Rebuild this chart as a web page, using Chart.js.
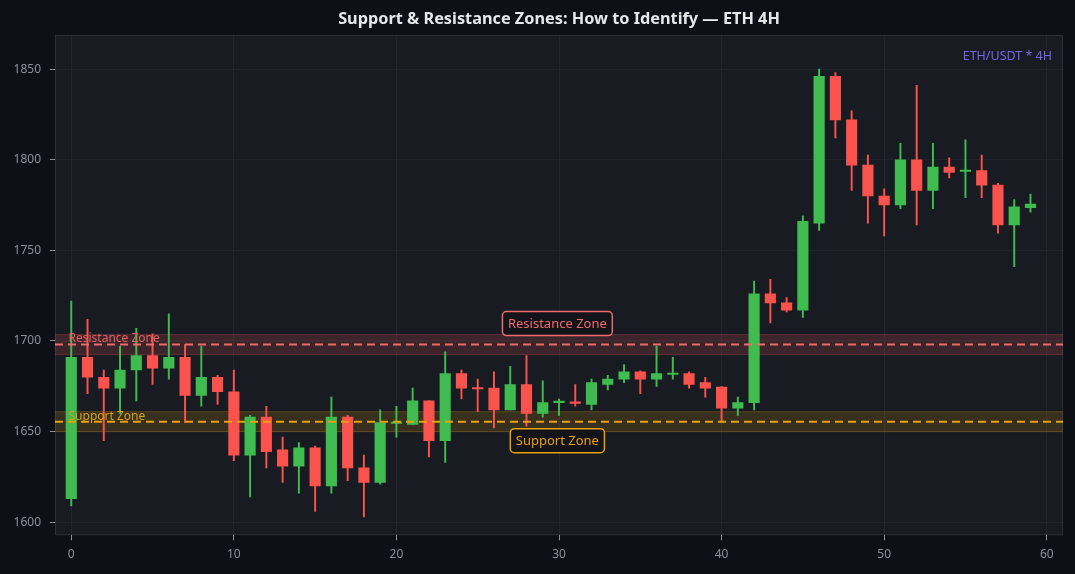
<!DOCTYPE html>
<html lang="en">
<head>
<meta charset="utf-8">
<title>Support & Resistance Zones — ETH 4H</title>
<script src="https://cdn.jsdelivr.net/npm/chart.js@4.4.1/dist/chart.umd.min.js"></script>
<style>
  html, body { margin: 0; padding: 0; background: #0d1017; }
  #wrap { width: 1075px; height: 574px; position: relative; }
</style>
</head>
<body>
<div id="wrap"><canvas id="chart"></canvas></div>
<script>
/* ===========================================================
   ETH 4H — support & resistance zones (Chart.js, floating bars)
   =========================================================== */

// ---------- Dados (OHLC por vela) ----------
const candleIdx = Array.from({ length: 60 }, (_, i) => i);
const opens  = [1613, 1691, 1680, 1674, 1684, 1692, 1685, 1691, 1670, 1680,
                1672, 1637, 1658, 1640, 1631, 1641, 1620, 1658, 1630, 1622,
                1654.5, 1654, 1667, 1645, 1682, 1674, 1674, 1662, 1676, 1660,
                1666, 1666.5, 1665, 1676, 1679, 1683, 1679, 1681.5, 1682, 1677,
                1674.5, 1663, 1666, 1726, 1721, 1717, 1765, 1846, 1822, 1797,
                1780, 1775, 1800, 1783, 1796, 1793.5, 1794, 1786, 1764, 1773.5];
const highs  = [1722, 1712, 1684, 1697, 1707, 1704, 1715, 1698, 1697, 1681,
                1684, 1659, 1664, 1647, 1644, 1642, 1669, 1659, 1637, 1662,
                1664, 1674, 1667, 1694, 1684, 1679, 1683, 1686, 1692, 1678,
                1668, 1676, 1679, 1681, 1687, 1683.5, 1697, 1691, 1683, 1680,
                1675, 1669, 1733, 1734, 1724, 1769, 1850, 1848, 1827, 1802.5,
                1784, 1809, 1841, 1809, 1801, 1811, 1802.5, 1787, 1778, 1781];
const lows   = [1609, 1671, 1645, 1660, 1667, 1676, 1679, 1655, 1664, 1665,
                1634, 1614, 1630, 1622, 1616, 1606, 1616, 1623, 1603, 1621,
                1647, 1654, 1636, 1633, 1668, 1661, 1652, 1662, 1653, 1658,
                1659, 1664, 1662, 1673, 1677, 1671, 1675, 1679, 1674, 1669,
                1655, 1659, 1662, 1710, 1716, 1713, 1761, 1812, 1783, 1765,
                1758, 1773, 1764, 1773, 1790, 1779, 1779, 1759.5, 1741, 1771];
const closes = [1691, 1680, 1674, 1684, 1692, 1685, 1691, 1670, 1680, 1672,
                1637, 1658, 1639, 1631, 1641, 1620, 1658, 1630, 1622, 1655,
                1655, 1667, 1645, 1682, 1674, 1673.5, 1662, 1676, 1660, 1666,
                1666.5, 1665.5, 1677, 1679, 1683, 1679, 1682, 1682, 1676, 1674,
                1663, 1666, 1726, 1721, 1717, 1766, 1846, 1822, 1797, 1780,
                1775, 1800, 1783, 1796, 1793, 1794, 1786, 1764, 1774, 1775.5];

// ---------- Zonas ----------
const resistanceLevel = 1698;
const supportLevel    = 1655.5;
const zoneHalfWidth   = 5.5;

// ---------- Eixos ----------
const xTicks = [0, 10, 20, 30, 40, 50, 60];
const yTicks = [1600, 1650, 1700, 1750, 1800, 1850];
const xRange = [-1, 61];
const yRange = [1592.8, 1868.8];

const TITLE = 'Support & Resistance Zones: How to Identify — ETH 4H';

// ---------- Tema (paleta) ----------
const palette = {
  up:         '#3fbb50',
  down:       '#fa524c',
  resLine:    '#ef6b6b',
  resText:    '#e85f5f',
  resFill:    'rgba(240,90,90,0.17)',
  resEdge:    'rgba(240,90,90,0.28)',
  supLine:    '#e8a00c',
  supText:    '#d9a112',
  supFill:    'rgba(225,160,20,0.16)',
  supEdge:    'rgba(225,160,20,0.28)',
  plotBg:     '#181b22',
  frame:      'rgba(255,255,255,0.09)',
  grid:       'rgba(255,255,255,0.045)',
  tick:       '#8b9099',
  title:      '#e6e8ec',
  tag:        '#7468ec',
  boxBg:      '#12141a'
};

const FONT = '"Noto Sans", "Open Sans", sans-serif';
const colorOf = i => (closes[i] >= opens[i] ? palette.up : palette.down);

const bodies = candleIdx.map(i => ({ x: i, y: [opens[i], closes[i]] }));
const wicks  = candleIdx.map(i => ({ x: i, y: [lows[i], highs[i]] }));
const hLine  = v => [{ x: xRange[0], y: v }, { x: xRange[1], y: v }];

// ---------- Plugin: fundo, moldura, título e rótulos ----------
const decor = {
  id: 'decor',
  beforeDraw(chart) {
    const { ctx, chartArea: a } = chart;
    ctx.save();
    ctx.fillStyle = palette.plotBg;
    ctx.fillRect(a.left, a.top, a.right - a.left, a.bottom - a.top);
    ctx.restore();
  },
  afterDraw(chart) {
    const { ctx, chartArea: a, scales: { x, y } } = chart;
    ctx.save();
    ctx.strokeStyle = palette.frame;
    ctx.lineWidth = 1;
    ctx.strokeRect(a.left + 0.5, a.top + 0.5, a.right - a.left - 1, a.bottom - a.top - 1);

    // título centrado na área do gráfico
    ctx.font = 'bold 16.3px ' + FONT;
    ctx.fillStyle = palette.title;
    ctx.textAlign = 'center';
    ctx.textBaseline = 'middle';
    ctx.fillText(TITLE, (a.left + a.right) / 2, 19);

    // rótulos à esquerda
    ctx.font = '12px ' + FONT;
    ctx.textAlign = 'left';
    ctx.fillStyle = palette.resText;
    ctx.fillText('Resistance Zone', x.getPixelForValue(-0.17), y.getPixelForValue(resistanceLevel) - 6);
    ctx.fillStyle = palette.supText;
    ctx.fillText('Support Zone', x.getPixelForValue(-0.17), y.getPixelForValue(supportLevel) - 5);

    // caixas centrais
    const box = (text, cx, cy, color) => {
      ctx.font = '13px ' + FONT;
      const w = ctx.measureText(text).width + 11;
      const h = 24;
      ctx.beginPath();
      ctx.roundRect(cx - w / 2, cy - h / 2, w, h, 4);
      ctx.fillStyle = palette.boxBg;
      ctx.fill();
      ctx.lineWidth = 1.5;
      ctx.strokeStyle = color;
      ctx.stroke();
      ctx.fillStyle = color;
      ctx.textAlign = 'center';
      ctx.textBaseline = 'middle';
      ctx.fillText(text, cx, cy + 0.5);
    };
    box('Resistance Zone', x.getPixelForValue(29.9), y.getPixelForValue(resistanceLevel + 11.6), palette.resLine);
    box('Support Zone', x.getPixelForValue(29.9), y.getPixelForValue(supportLevel - 10.5), palette.supLine);

    // tag do par
    ctx.font = '12.5px ' + FONT;
    ctx.fillStyle = palette.tag;
    ctx.textAlign = 'right';
    ctx.fillText('ETH/USDT * 4H', a.right - 11, a.top + 21);
    ctx.restore();
  }
};

// ---------- Gráfico ----------
const bandEdge = (v, color, fill) => ({
  type: 'line', data: hLine(v), borderColor: color, borderWidth: 1,
  pointRadius: 0, fill, backgroundColor: fill ? undefined : 'transparent', order: 10
});

new Chart(document.getElementById('chart'), {
  type: 'bar',
  data: {
    datasets: [
      // faixas (preenchidas entre bordas)
      Object.assign(bandEdge(resistanceLevel + zoneHalfWidth, palette.resEdge, '+1'), { backgroundColor: palette.resFill }),
      bandEdge(resistanceLevel - zoneHalfWidth, palette.resEdge, false),
      Object.assign(bandEdge(supportLevel + zoneHalfWidth, palette.supEdge, '+1'), { backgroundColor: palette.supFill }),
      bandEdge(supportLevel - zoneHalfWidth, palette.supEdge, false),
      // pavios e corpos
      {
        type: 'bar', data: wicks, grouped: false, barThickness: 1.3,
        backgroundColor: candleIdx.map(colorOf), borderWidth: 0, order: 6
      },
      {
        type: 'bar', data: bodies, grouped: false, barThickness: 10.5, minBarLength: 1.5,
        backgroundColor: candleIdx.map(colorOf), borderWidth: 0, order: 5
      },
      // linhas tracejadas
      {
        type: 'line', data: hLine(resistanceLevel), borderColor: palette.resLine,
        borderWidth: 2, borderDash: [8, 5], pointRadius: 0, fill: false, order: 1
      },
      {
        type: 'line', data: hLine(supportLevel), borderColor: palette.supLine,
        borderWidth: 2, borderDash: [8, 5], pointRadius: 0, fill: false, order: 1
      }
    ]
  },
  options: {
    responsive: true, maintainAspectRatio: false, animation: false,
    layout: { padding: { top: 35, right: 12, left: 0, bottom: 0 } },
    plugins: {
      legend: { display: false },
      tooltip: { enabled: false },
      title: { display: false }
    },
    scales: {
      x: {
        type: 'linear', min: xRange[0], max: xRange[1], offset: false,
        afterBuildTicks: s => { s.ticks = xTicks.map(v => ({ value: v })); },
        afterFit: s => { s.height = 38.7; },
        grid: { color: palette.grid, tickColor: palette.tick, tickLength: 5, offset: false },
        border: { display: false },
        ticks: { color: palette.tick, font: { family: FONT, size: 12 }, padding: 7, maxRotation: 0,
                 callback: v => String(v) }
      },
      y: {
        type: 'linear', min: yRange[0], max: yRange[1],
        afterBuildTicks: s => { s.ticks = yTicks.map(v => ({ value: v })); },
        afterFit: s => { s.width = 55; },
        grid: { color: palette.grid, tickColor: palette.tick, tickLength: 5 },
        border: { display: false },
        ticks: { color: palette.tick, font: { family: FONT, size: 12 }, padding: 9,
                 callback: v => String(v) }
      }
    }
  },
  plugins: [decor]
});
</script>
</body>
</html>
